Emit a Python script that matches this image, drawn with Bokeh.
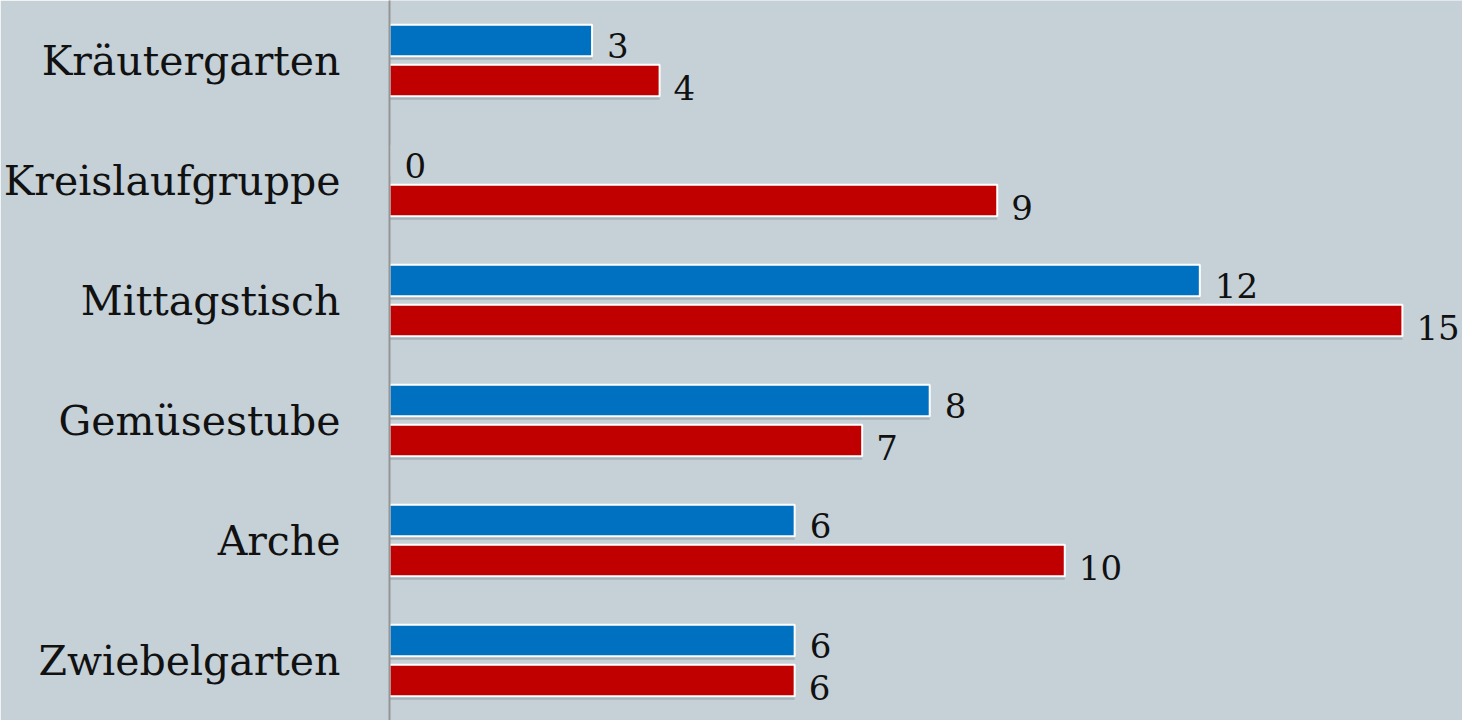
from bokeh.plotting import figure
from bokeh.models import ColumnDataSource, FactorRange, Range1d
from bokeh.transform import dodge
from bokeh.core.properties import value
from bokeh.embed import file_html
from bokeh.resources import INLINE

categories = ["Kräutergarten", "Kreislaufgruppe", "Mittagstisch", "Gemüsestube", "Arche", "Zwiebelgarten"]
blue_values = [3, 0, 12, 8, 6, 6]
red_values = [4, 9, 15, 7, 10, 6]

BG = "#C5D0D7"
FONT = "DejaVu Serif"

src = ColumnDataSource(data=dict(
    cat=categories,
    blue=blue_values,
    red=red_values,
    blue_lbl=[str(v) for v in blue_values],
    red_lbl=[str(v) for v in red_values],
))

p = figure(
    width=1462, height=720,
    y_range=FactorRange(factors=list(reversed(categories)), range_padding=0),
    x_range=Range1d(0, 15.89),
    output_backend="svg", toolbar_location=None,
    background_fill_color=BG, border_fill_color=BG,
    min_border_left=387, min_border_right=0, min_border_top=0, min_border_bottom=0,
)
p.outline_line_color = None
p.xgrid.visible = False
p.ygrid.visible = False
p.xaxis.visible = False

yax = p.yaxis[0]
yax.axis_line_color = "#959595"
yax.axis_line_width = 2
yax.major_tick_line_color = None
yax.minor_tick_line_color = None
yax.major_label_text_font = FONT
yax.major_label_text_font_size = "41px"
yax.major_label_text_color = "#111111"
yax.major_label_standoff = 43

off = 0.167
h = 0.262
yb = dodge("cat", off, range=p.y_range)
yr = dodge("cat", -off, range=p.y_range)

# soft shadows
p.hbar(y=dodge("cat", off - 0.03, range=p.y_range), right="blue", left=0, height=h,
       source=src, fill_color="#6E7B85", fill_alpha=0.35, line_color=None)
p.hbar(y=dodge("cat", -off - 0.03, range=p.y_range), right="red", left=0, height=h,
       source=src, fill_color="#6E7B85", fill_alpha=0.35, line_color=None)

p.hbar(y=yb, right="blue", left=0, height=h, source=src,
       fill_color="#0070C0", line_color="white", line_width=2)
p.hbar(y=yr, right="red", left=0, height=h, source=src,
       fill_color="#C00000", line_color="white", line_width=2)

p.text(x="blue", y=yb, text="blue_lbl", source=src,
       x_offset=15, y_offset=5, text_baseline="middle", text_align="left",
       text_font=value(FONT), text_font_size="34px", text_color="#111111")
p.text(x="red", y=yr, text="red_lbl", source=src,
       x_offset=14, y_offset=7, text_baseline="middle", text_align="left",
       text_font=value(FONT), text_font_size="34px", text_color="#111111")

open("out.html", "w").write(file_html(p, INLINE))
